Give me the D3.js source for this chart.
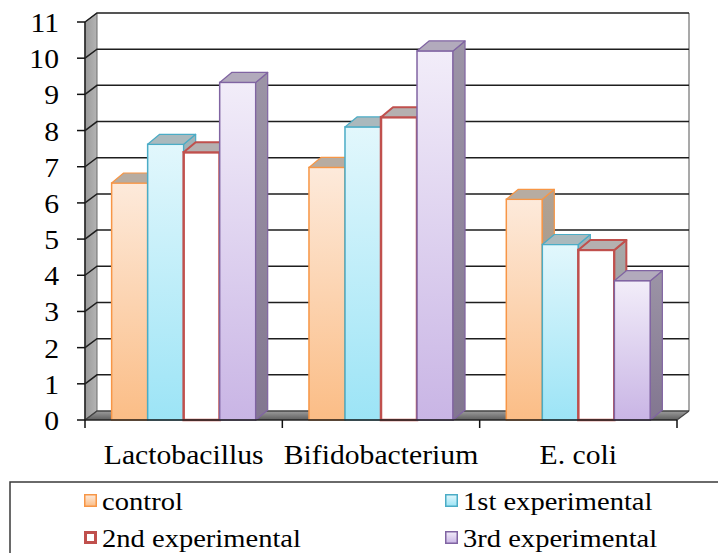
<!DOCTYPE html>
<html>
<head>
<meta charset="utf-8">
<script src="https://cdn.jsdelivr.net/npm/d3@7/dist/d3.min.js"></script>
<style>
  html, body { margin: 0; padding: 0; background: #fff; }
  svg { display: block; }
  text { font-family: "Liberation Serif", "Times New Roman", serif; fill: #000; }
</style>
</head>
<body>
<svg id="chart" width="718" height="553"></svg>
<script>
// Chart data
const categories = ["Lactobacillus", "Bifidobacterium", "E. coli"];
const seriesNames = ["control", "1st experimental", "2nd experimental", "3rd experimental"];
const controlValues = [6.55, 6.98, 6.1];
const exp1Values = [7.62, 8.1, 4.85];
const exp2Values = [7.4, 8.37, 4.7];
const exp3Values = [9.33, 10.2, 3.85];
const yTickValues = [0, 1, 2, 3, 4, 5, 6, 7, 8, 9, 10, 11];

const seriesValues = [controlValues, exp1Values, exp2Values, exp3Values];

// Visual styling per series
const seriesStyle = [
  { top: "#fdeadb", bottom: "#fbbd86", stroke: "#f79646", side: ["#b0a294", "#9e8f80"], cap: "#b7aca1", sw: 1.5 },
  { top: "#e2f7fc", bottom: "#9ce4f6", stroke: "#4bacc6", side: ["#9fb3b8", "#84a0a7"], cap: "#aab9bd", sw: 1.5 },
  { top: "#ffffff", bottom: "#ffffff", stroke: "#c0504d", side: ["#a8a8a8", "#979797"], cap: "#b5b0b0", sw: 2.5 },
  { top: "#f2edf9", bottom: "#c9b5e5", stroke: "#8064a2", side: ["#9c94a6", "#827690"], cap: "#b2aabc", sw: 1.5 }
];

const svg = d3.select("#chart");
const defs = svg.append("defs");

// Plot geometry
const left = 85, right = 677, y0px = 420, y11px = 22;
const wallDx = 12, wallDy = 9;
const barDx = 12, barDy = 10;
const stretch = 1.12;

const x = d3.scaleBand().domain(categories).range([left, right]).paddingInner(0).paddingOuter(0);
const groupW = x.bandwidth() * 0.73;
const xs = d3.scaleBand().domain(seriesNames).range([0, groupW]).padding(0);
const y = d3.scaleLinear().domain([0, 11]).range([y0px, y11px]);

// Gradients
seriesStyle.forEach((s, i) => {
  const g = defs.append("linearGradient").attr("id", "front" + i)
    .attr("x1", 0).attr("y1", 0).attr("x2", 0).attr("y2", 1);
  g.append("stop").attr("offset", "0%").attr("stop-color", s.top);
  g.append("stop").attr("offset", "100%").attr("stop-color", s.bottom);
  const gs = defs.append("linearGradient").attr("id", "side" + i)
    .attr("x1", 0).attr("y1", 0).attr("x2", 0).attr("y2", 1);
  gs.append("stop").attr("offset", "0%").attr("stop-color", s.side[0]);
  gs.append("stop").attr("offset", "100%").attr("stop-color", s.side[1]);
});
const fg = defs.append("linearGradient").attr("id", "floorGrad")
  .attr("x1", 0).attr("y1", 0).attr("x2", 0).attr("y2", 1);
fg.append("stop").attr("offset", "0%").attr("stop-color", "#9c9c9c");
fg.append("stop").attr("offset", "100%").attr("stop-color", "#5e5e5e");
const wg = defs.append("linearGradient").attr("id", "wallGrad")
  .attr("x1", 0).attr("y1", 0).attr("x2", 1).attr("y2", 0);
wg.append("stop").attr("offset", "0%").attr("stop-color", "#9a9a9a");
wg.append("stop").attr("offset", "100%").attr("stop-color", "#b4b4b4");

// Floor
svg.append("path")
  .attr("d", `M${left},${y(0)} L${right},${y(0)} L${right + wallDx},${y(0) - wallDy} L${left + wallDx},${y(0) - wallDy} Z`)
  .attr("fill", "url(#floorGrad)");

// Left side wall
svg.append("path")
  .attr("d", `M${left},${y(0)} L${left},${y(11)} L${left + wallDx},${y(11) - wallDy} L${left + wallDx},${y(0) - wallDy} Z`)
  .attr("fill", "url(#wallGrad)").attr("stroke", "#6a6a6a").attr("stroke-width", 1);

// Back wall right edge
svg.append("line")
  .attr("x1", right + wallDx).attr("x2", right + wallDx)
  .attr("y1", y(11) - wallDy).attr("y2", y(0) - wallDy)
  .attr("stroke", "#8c8c8c").attr("stroke-width", 1.5);

// Gridlines (running across the side wall and the back wall)
svg.append("g").selectAll("path").data(yTickValues).join("path")
  .attr("d", d => `M${left},${y(d)} L${left + wallDx},${y(d) - wallDy} L${right + wallDx},${y(d) - wallDy}`)
  .attr("fill", "none")
  .attr("stroke", d => d === 0 ? "#444" : "#1e1e1e")
  .attr("stroke-width", 1.5);

// Front-right floor edge
svg.append("line")
  .attr("x1", right).attr("y1", y(0)).attr("x2", right + wallDx).attr("y2", y(0) - wallDy)
  .attr("stroke", "#444").attr("stroke-width", 1.2);

// 3D bars
const bars = svg.append("g");
categories.forEach((cat, ci) => {
  const gx = x(cat) + (x.bandwidth() - groupW) / 2;
  seriesNames.forEach((name, si) => {
    const v = seriesValues[si][ci];
    const s = seriesStyle[si];
    const bx = gx + xs(name);
    const w = xs.bandwidth();
    const yt = y(v), yb = y(0);
    const g = bars.append("g");
    g.append("rect")
      .attr("x", bx).attr("y", yt).attr("width", w).attr("height", yb - yt)
      .attr("fill", `url(#front${si})`).attr("stroke", s.stroke).attr("stroke-width", s.sw);
    g.append("path")
      .attr("d", `M${bx + w},${yt} L${bx + w + barDx},${yt - barDy} L${bx + w + barDx},${yb - barDy} L${bx + w},${yb} Z`)
      .attr("fill", `url(#side${si})`).attr("stroke", s.stroke).attr("stroke-width", s.sw * 0.8)
      .attr("stroke-linejoin", "round");
    g.append("path")
      .attr("d", `M${bx},${yt} L${bx + barDx},${yt - barDy} L${bx + w + barDx},${yt - barDy} L${bx + w},${yt} Z`)
      .attr("fill", s.cap).attr("stroke", s.stroke).attr("stroke-width", s.sw * 0.8)
      .attr("stroke-linejoin", "round");
  });
});

// Axes
svg.append("line")
  .attr("x1", left).attr("x2", left).attr("y1", y(11)).attr("y2", y(0))
  .attr("stroke", "#222").attr("stroke-width", 1.5);
svg.append("line")
  .attr("x1", left).attr("x2", right).attr("y1", y(0)).attr("y2", y(0))
  .attr("stroke", "#222").attr("stroke-width", 1.5);

svg.append("g").selectAll("line").data(yTickValues).join("line")
  .attr("x1", left - 8).attr("x2", left).attr("y1", d => y(d)).attr("y2", d => y(d))
  .attr("stroke", "#111").attr("stroke-width", 1.5);

const xTickPos = categories.map(c => x(c)).concat([right]);
svg.append("g").selectAll("line").data(xTickPos).join("line")
  .attr("x1", d => d).attr("x2", d => d).attr("y1", y(0)).attr("y2", y(0) + 8)
  .attr("stroke", "#111").attr("stroke-width", 1.5);

// Text helper: serif labels drawn slightly widened
function label(parent, tx, ty, str, size, anchor) {
  return parent.append("text")
    .attr("transform", `translate(${tx},${ty}) scale(${stretch},1)`)
    .attr("text-anchor", anchor)
    .style("font-size", size + "px")
    .text(str);
}

yTickValues.forEach(t => label(svg, 59, y(t) + 10, String(t), 26.5, "end"));
categories.forEach(c => label(svg, x(c) + x.bandwidth() / 2, 464, c, 26.5, "middle"));

// Legend
const legend = svg.append("g");
legend.append("rect")
  .attr("x", 10).attr("y", 482).attr("width", 730).attr("height", 120)
  .attr("fill", "#fff").attr("stroke", "#3a3a3a").attr("stroke-width", 1.5);

const legendCols = [84, 445];
const legendRows = [494, 531];
seriesNames.forEach((name, i) => {
  const lx = legendCols[i % 2], ly = legendRows[Math.floor(i / 2)];
  const s = seriesStyle[i];
  const inset = s.sw > 2 ? 1.5 : 0.75;
  legend.append("rect")
    .attr("x", lx + inset).attr("y", ly + inset)
    .attr("width", 13 - 2 * inset).attr("height", 13 - 2 * inset)
    .attr("fill", `url(#front${i})`).attr("stroke", s.stroke).attr("stroke-width", s.sw > 2 ? 3 : 1.5);
  label(legend, lx + 18, ly + 16, name, 25.5, "start");
});
</script>
</body>
</html>
